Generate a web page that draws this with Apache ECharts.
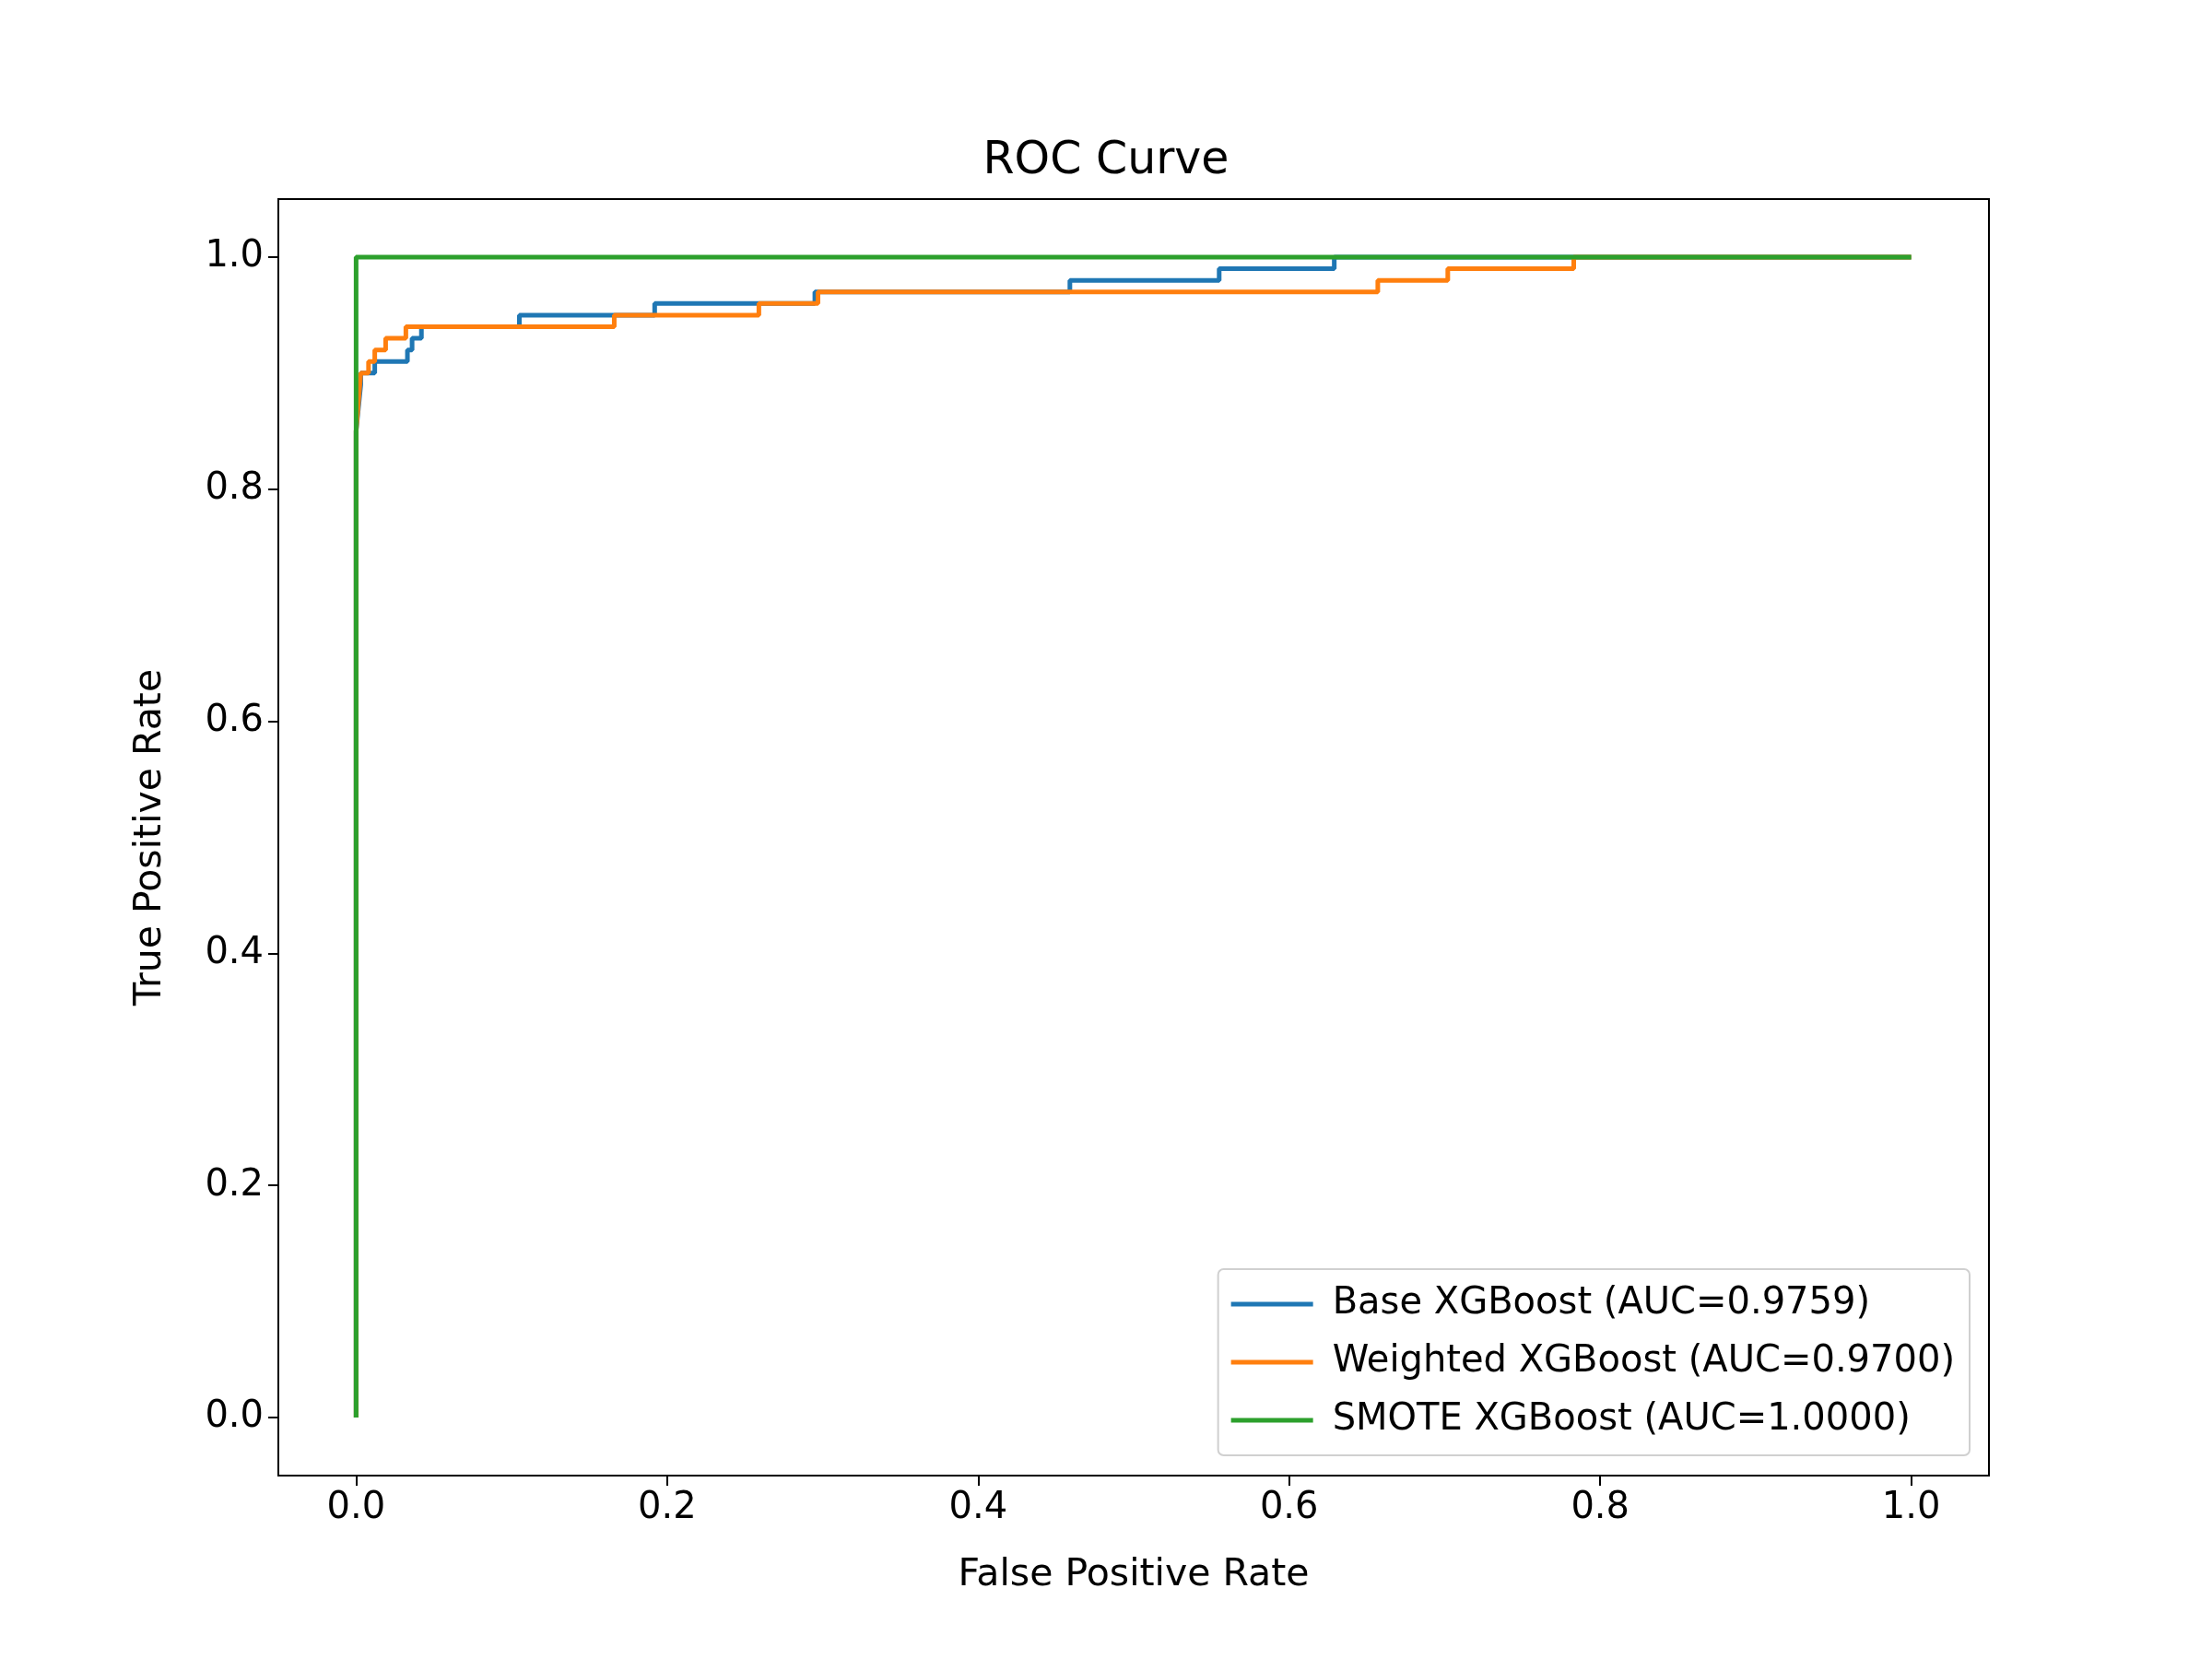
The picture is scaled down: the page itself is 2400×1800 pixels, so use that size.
<!DOCTYPE html>
<html>
<head>
<meta charset="utf-8">
<script src="https://cdn.jsdelivr.net/npm/echarts@6/dist/echarts.min.js"></script>
<style>html,body{margin:0;background:#fff}#chart{width:2400px;height:1800px}</style>
</head>
<body>
<div id="chart"></div>
<script>
// ROC points (fpr, tpr)
const baseFpr = [0, 0, 0.003, 0.003, 0.012, 0.012, 0.033, 0.033, 0.036, 0.036, 0.042, 0.042, 0.105, 0.105, 0.192, 0.192, 0.295, 0.295, 0.459, 0.459, 0.555, 0.555, 0.629, 0.629, 1];
const baseTpr = [0, 0.85, 0.89, 0.90, 0.90, 0.91, 0.91, 0.92, 0.92, 0.93, 0.93, 0.94, 0.94, 0.95, 0.95, 0.96, 0.96, 0.97, 0.97, 0.98, 0.98, 0.99, 0.99, 1.0, 1.0];
const weightedFpr = [0, 0, 0.003, 0.008, 0.008, 0.012, 0.012, 0.019, 0.019, 0.032, 0.032, 0.166, 0.166, 0.259, 0.259, 0.297, 0.297, 0.657, 0.657, 0.702, 0.702, 0.783, 0.783, 1];
const weightedTpr = [0, 0.85, 0.90, 0.90, 0.91, 0.91, 0.92, 0.92, 0.93, 0.93, 0.94, 0.94, 0.95, 0.95, 0.96, 0.96, 0.97, 0.97, 0.98, 0.98, 0.99, 0.99, 1.0, 1.0];
const smoteFpr = [0, 0, 1];
const smoteTpr = [0, 1, 1];
const seriesNames = ['Base XGBoost (AUC=0.9759)', 'Weighted XGBoost (AUC=0.9700)', 'SMOTE XGBoost (AUC=1.0000)'];
const colors = ['#1f77b4', '#ff7f0e', '#2ca02c'];
const ticks = [0, 0.2, 0.4, 0.6, 0.8, 1.0];

const zip = (xs, ys) => xs.map((x, i) => [x, ys[i]]);
const font = 'DejaVu Sans';
const chart = echarts.init(document.getElementById('chart'));

function axis(name, gap, rot) {
    return {
        type: 'value', min: -0.05, max: 1.05, name: name, nameLocation: 'middle', nameGap: gap,
        nameRotate: rot,
        nameTextStyle: { fontFamily: font, fontSize: 41, color: '#000' },
        axisLine: { onZero: false, lineStyle: { color: '#000', width: 2 } },
        axisTick: { show: true, customValues: ticks, length: 11, lineStyle: { color: '#000', width: 2 } },
        axisLabel: { customValues: ticks, formatter: v => v.toFixed(1), fontFamily: font, fontSize: 40, color: '#000', margin: 16 },
        splitLine: { show: false }
    };
}

const data = [zip(baseFpr, baseTpr), zip(weightedFpr, weightedTpr), zip(smoteFpr, smoteTpr)];

chart.setOption({
    animation: false,
    title: { text: 'ROC Curve', left: 'center', top: 146, textStyle: { fontFamily: font, fontSize: 49, fontWeight: 'normal', color: '#000' } },
    grid: { left: 302, right: 242, top: 216, bottom: 199, show: true, borderColor: '#000', borderWidth: 2 },
    xAxis: axis('False Positive Rate', 88, 0),
    yAxis: axis('True Positive Rate', 118, 90),
    legend: {
        orient: 'vertical', right: 263, bottom: 221,
        itemWidth: 89, itemHeight: 5, itemGap: 23,
        padding: [18, 16, 18, 14],
        borderColor: '#d0d0d0', borderWidth: 2, borderRadius: 6,
        backgroundColor: 'rgba(255,255,255,0.8)',
        textStyle: { fontFamily: font, fontSize: 40, color: '#000', padding: [0, 0, 0, 16] },
        data: seriesNames.map(n => ({ name: n, icon: 'rect' }))
    },
    series: seriesNames.map((n, i) => ({
        name: n, type: 'line', data: data[i], showSymbol: false, symbol: 'none',
        color: colors[i], lineStyle: { width: 5, color: colors[i] }
    }))
});
</script>
</body>
</html>
